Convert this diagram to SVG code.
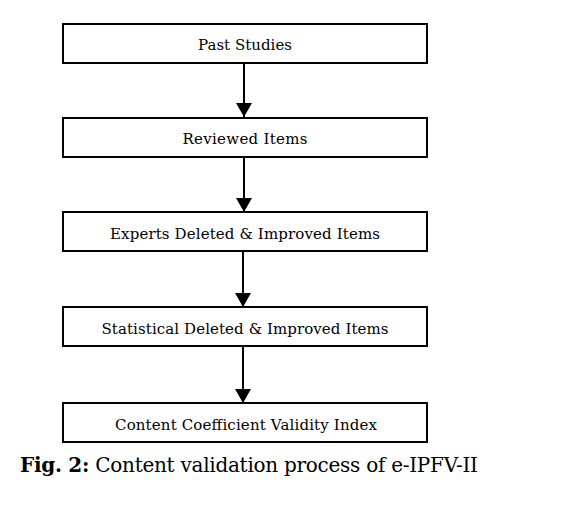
<svg xmlns="http://www.w3.org/2000/svg" width="564" height="511" viewBox="0 0 564 511">
<style>
.box{fill:#fff;stroke:#000;stroke-width:2}
.lbl{font-family:"DejaVu Serif","Liberation Serif",serif;font-size:15px;fill:#000;text-anchor:middle}
.cap{font-family:"DejaVu Serif","Liberation Serif",serif;font-size:20px;fill:#000}
.conn{stroke:#000;stroke-width:2;fill:none}
</style>
<defs>
<marker id="ah" markerWidth="7" markerHeight="8" refX="7" refY="4" orient="auto" markerUnits="strokeWidth">
<path d="M0,0 L7,4 L0,8 Z" fill="#000"/>
</marker>
</defs>
<rect width="564" height="511" fill="#fff"/>
<g id="connectors">
<line class="conn" x1="244" y1="63" x2="244" y2="117" marker-end="url(#ah)" stroke-width="1.5"/>
<line class="conn" x1="244" y1="157" x2="244" y2="212" marker-end="url(#ah)"/>
<line class="conn" x1="243" y1="252" x2="243" y2="307" marker-end="url(#ah)"/>
<line class="conn" x1="243" y1="347" x2="243" y2="403" marker-end="url(#ah)"/>
</g>
<g id="n1"><rect class="box" x="63" y="24" width="364" height="39"/><text class="lbl" x="245" y="50" textLength="94">Past Studies</text></g>
<g id="n2"><rect class="box" x="63" y="118" width="364" height="39"/><text class="lbl" x="245" y="144" textLength="125">Reviewed Items</text></g>
<g id="n3"><rect class="box" x="63" y="212" width="364" height="39"/><text class="lbl" x="245" y="239" textLength="270">Experts Deleted &amp; Improved Items</text></g>
<g id="n4"><rect class="box" x="63" y="307" width="364" height="39"/><text class="lbl" x="245" y="334" textLength="287">Statistical Deleted &amp; Improved Items</text></g>
<g id="n5"><rect class="box" x="63" y="403" width="364" height="39"/><text class="lbl" x="246" y="430" textLength="262">Content Coefficient Validity Index</text></g>
<text class="cap" x="20" y="472" textLength="458"><tspan font-weight="bold">Fig. 2:</tspan> Content validation process of e-IPFV-II</text>
</svg>
